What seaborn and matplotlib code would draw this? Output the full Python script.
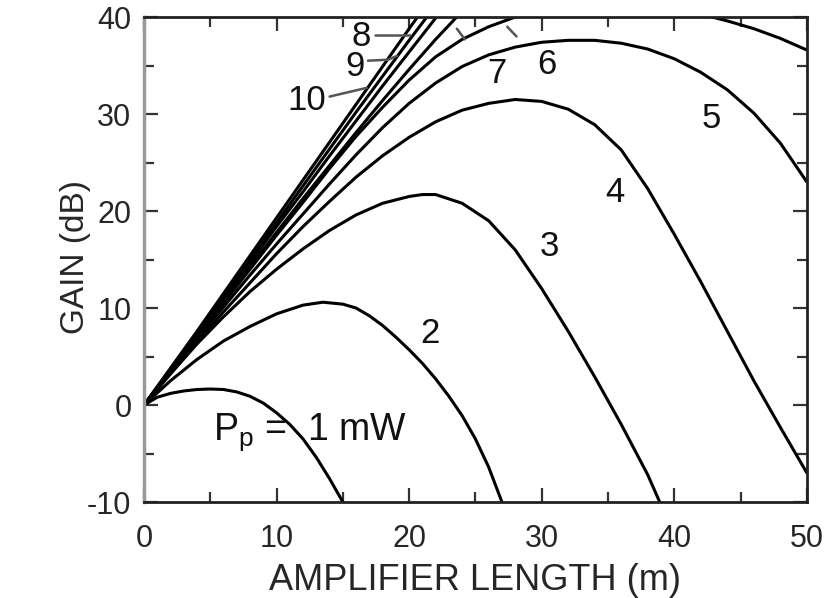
import matplotlib
matplotlib.use("Agg")
import matplotlib.pyplot as plt
from matplotlib.ticker import MultipleLocator
import numpy as np
import pandas as pd
import seaborn as sns

# gain curves, one per pump power (mW)
len_1 = [0, 1, 2, 3, 4, 5, 6, 7, 8, 9, 10, 11, 12, 13, 14, 15]
gain_1 = [0, 0.8, 1.2, 1.45, 1.6, 1.65, 1.6, 1.35, 0.9, 0.2, -0.8, -2.0, -3.5, -5.4, -7.6, -10]

len_2 = [0, 2, 4, 6, 8, 10, 12, 13.5, 15, 16, 17, 18, 19, 20, 21, 22, 23, 24, 25, 26, 27]
gain_2 = [0, 2.5, 4.7, 6.6, 8.1, 9.4, 10.3, 10.6, 10.4, 10.0, 9.2, 8.2, 7.0, 5.7, 4.3, 2.7, 0.9, -1.1, -3.5, -6.4, -10]

len_3 = [0, 2, 4, 6, 8, 10, 12, 14, 16, 18, 20, 21, 22, 24, 26, 28, 30, 32, 34, 36, 38, 38.9]
gain_3 = [0, 3.2, 6.3, 9.1, 11.7, 14.0, 16.1, 18.0, 19.6, 20.8, 21.5, 21.7, 21.7, 20.8, 19.0, 16.0, 12.0, 7.6, 2.9, -2.0, -7.2, -10]

len_4 = [0, 2, 4, 6, 8, 10, 12, 14, 16, 18, 20, 22, 24, 26, 28, 30, 32, 34, 36, 38, 40, 42, 44, 46, 48, 50]
gain_4 = [0, 3.3, 6.5, 9.6, 12.6, 15.6, 18.4, 21.0, 23.5, 25.7, 27.6, 29.2, 30.4, 31.1, 31.5, 31.3, 30.5, 28.9,
          26.3, 22.3, 17.6, 12.7, 7.6, 2.5, -2.3, -7.0]

len_5 = [0, 2, 4, 6, 8, 10, 12, 14, 16, 18, 20, 22, 24, 26, 28, 30, 32, 34, 36, 38, 40, 42, 44, 46, 48, 50]
gain_5 = [0, 3.4, 6.8, 10.1, 13.4, 16.6, 19.7, 22.8, 25.8, 28.6, 31.1, 33.2, 34.9, 36.1, 36.9, 37.4, 37.6, 37.6,
          37.3, 36.7, 35.7, 34.3, 32.5, 30.1, 27.0, 23.0]

len_6 = [0, 2, 4, 6, 8, 10, 12, 14, 16, 18, 20, 22, 24, 26, 28, 30, 32, 34, 36, 38, 40, 42, 44, 46, 48, 50]
gain_6 = [0, 3.5, 7.0, 10.5, 14.0, 17.5, 20.9, 24.4, 27.7, 30.7, 33.5, 35.9, 37.7, 39.0, 40.0, 40.8, 41.3, 41.6,
          41.6, 41.4, 40.9, 40.3, 39.6, 38.8, 37.8, 36.6]

len_7 = [0, 2, 4, 6, 8, 10, 12, 14, 16, 18, 20, 22, 24]
gain_7 = [0, 3.5, 7.1, 10.7, 14.3, 17.8, 21.3, 24.7, 28.1, 31.4, 34.6, 37.7, 40.6]

len_8 = [0, 2, 4, 6, 8, 10, 12, 14, 16, 18, 20, 22, 23]
gain_8 = [0, 3.6, 7.3, 11.0, 14.7, 18.4, 22.0, 25.7, 29.3, 32.9, 36.4, 39.9, 41.6]

len_9 = [0, 2, 4, 6, 8, 10, 12, 14, 16, 18, 20, 22]
gain_9 = [0, 3.7, 7.4, 11.2, 15.0, 18.8, 22.6, 26.4, 30.2, 33.9, 37.6, 41.2]

len_10 = [0, 2, 4, 6, 8, 10, 12, 14, 16, 18, 20, 21]
gain_10 = [0, 3.8, 7.6, 11.5, 15.4, 19.3, 23.2, 27.1, 31.0, 34.9, 38.8, 40.7]

curves = {1: (len_1, gain_1), 2: (len_2, gain_2), 3: (len_3, gain_3), 4: (len_4, gain_4),
          5: (len_5, gain_5), 6: (len_6, gain_6), 7: (len_7, gain_7), 8: (len_8, gain_8),
          9: (len_9, gain_9), 10: (len_10, gain_10)}

# curve labels: text, x, y
label_text = ["2", "3", "4", "5", "6", "7", "8", "9", "10"]
label_x = [21.6, 30.6, 35.5, 42.8, 30.4, 26.6, 16.4, 15.9, 12.3]
label_y = [7.4, 16.3, 21.9, 29.5, 35.1, 34.2, 38.0, 34.9, 31.4]

# leader lines for 8, 9, 10 and the small ticks by 6 and 7
leader_x = [[17.4, 20.1], [16.9, 18.4, 19.1], [14.0, 16.8], [27.4, 28.1], [23.6, 24.2]]
leader_y = [[38.1, 38.1], [35.5, 35.6, 36.0], [31.8, 32.7], [39.0, 38.0], [38.8, 37.7]]

rows = []
for k, (xs, ys) in curves.items():
    for a, b in zip(xs, ys):
        rows.append({"curve": k, "length": a, "gain": b})
df = pd.DataFrame(rows)

sns.set_style("ticks")
plt.rcParams["font.family"] = ["Liberation Sans", "DejaVu Sans"]
plt.rcParams["axes.unicode_minus"] = False
plt.rcParams["mathtext.fontset"] = "custom"
plt.rcParams["mathtext.rm"] = "Liberation Sans"
plt.rcParams["mathtext.it"] = "Liberation Sans"

fig = plt.figure(figsize=(8.37, 5.98), dpi=100)
ax = fig.add_axes([0.172, 0.1605, 0.792, 0.811])

sns.lineplot(data=df, x="length", y="gain", units="curve", estimator=None, sort=False,
             color="black", linewidth=2.2, ax=ax, legend=False)

ax.set_xlim(0, 50)
ax.set_ylim(-10, 40)
ax.xaxis.set_major_locator(MultipleLocator(10))
ax.xaxis.set_minor_locator(MultipleLocator(5))
ax.yaxis.set_major_locator(MultipleLocator(10))
ax.yaxis.set_minor_locator(MultipleLocator(5))
ax.tick_params(which="both", direction="in", top=True, right=True, width=1.6, color="#333333")
ax.tick_params(which="major", length=10, labelsize=22)
ax.tick_params(axis="x", which="major", pad=16)
ax.tick_params(axis="y", which="major", pad=9)
ax.tick_params(which="minor", length=7)

for side in ["top", "bottom", "right"]:
    ax.spines[side].set_linewidth(2)
    ax.spines[side].set_color("#222222")
ax.spines["left"].set_linewidth(2.5)
ax.spines["left"].set_color("#999999")

ax.set_xlabel("AMPLIFIER LENGTH (m)", fontsize=26, labelpad=6)
ax.set_ylabel("GAIN (dB)", fontsize=24)
ax.yaxis.set_label_coords(-0.08, 0.505)

for t, x, y in zip(label_text, label_x, label_y):
    ax.text(x, y, t, fontsize=25, ha="center", va="center", color="#111111")
ax.text(5.2, -2.8, r"$\mathrm{P_p}$ =  1 mW", fontsize=27, ha="left", va="center", color="#111111")

for lx, ly in zip(leader_x, leader_y):
    ax.plot(lx, ly, color="#555555", linewidth=1.8)

fig.savefig("out.png", dpi=100)
